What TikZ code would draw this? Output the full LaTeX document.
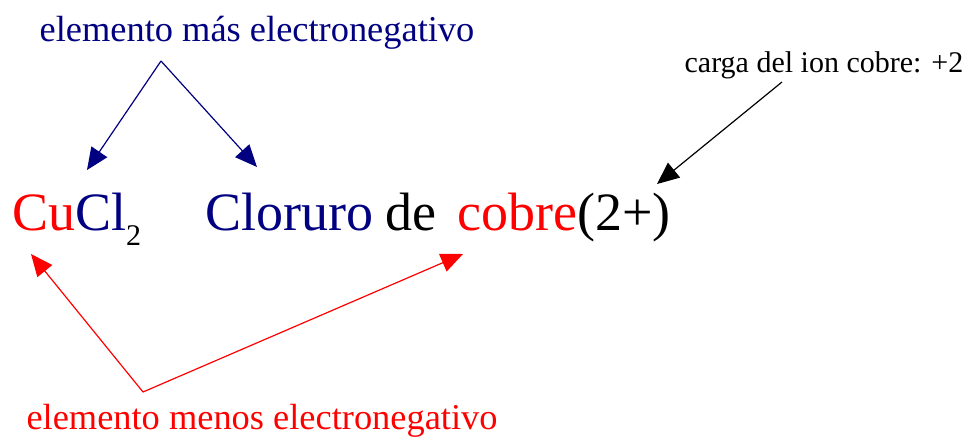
\documentclass[tikz,border=0pt]{standalone}
\usepackage{fontspec}
\setmainfont{Liberation Serif}
\usepackage{xcolor}
\usetikzlibrary{arrows.meta}
\definecolor{azulmas}{RGB}{0,0,128}

\tikzset{
    flecha/.style={line width=1.2pt, -{Triangle[length=22pt, width=19pt]}},
    grande/.style={anchor=base west, inner sep=0pt, font=\fontsize{54}{54}\selectfont},
    rotulo/.style={anchor=base, inner sep=0pt, font=\fontsize{36.4}{36.4}\selectfont}
}

\begin{document}
\begin{tikzpicture}[x=1pt, y=-1pt]
    \useasboundingbox (0,0) rectangle (967,437);

    % formula y nombre
    \node[grande] (cucl) at (12,230) {\textcolor{red}{Cu}\textcolor{azulmas}{Cl}\raisebox{-15pt}{\fontsize{30}{30}\selectfont 2}};
    \node[grande, text=azulmas] (cloruro) at (205,230) {Cloruro};
    \node[grande] (de) at (385,230) {de};
    \node[grande, text=red] (cobre) at (457,230) {cobre};
    \node[grande] (carga) at (cobre.base east) {(2+)};

    % rotulos
    \node[rotulo, text=azulmas] (masen) at (257,41) {elemento más electronegativo};
    \node[rotulo, text=red] (menosen) at (262,429) {elemento menos electronegativo};
    \node[anchor=base, inner sep=0pt, font=\fontsize{30}{30}\selectfont] (ion) at (824,72) {carga del ion cobre: +2};

    % puntos de las flechas
    \coordinate (vmas) at (161,61);
    \coordinate (vmenos) at (143,392);
    \coordinate (pcu) at (87,170);
    \coordinate (pclo) at (257,167);
    \coordinate (qcu) at (31,254);
    \coordinate (qcob) at (463,254);
    \coordinate (pion) at (782,82);
    \coordinate (qion) at (657,184);

    \draw[flecha, azulmas] (vmas) -- (pcu);
    \draw[flecha, azulmas] (vmas) -- (pclo);
    \draw[flecha, red] (vmenos) -- (qcu);
    \draw[flecha, red] (vmenos) -- (qcob);
    \draw[flecha] (pion) -- (qion);
\end{tikzpicture}
\end{document}
